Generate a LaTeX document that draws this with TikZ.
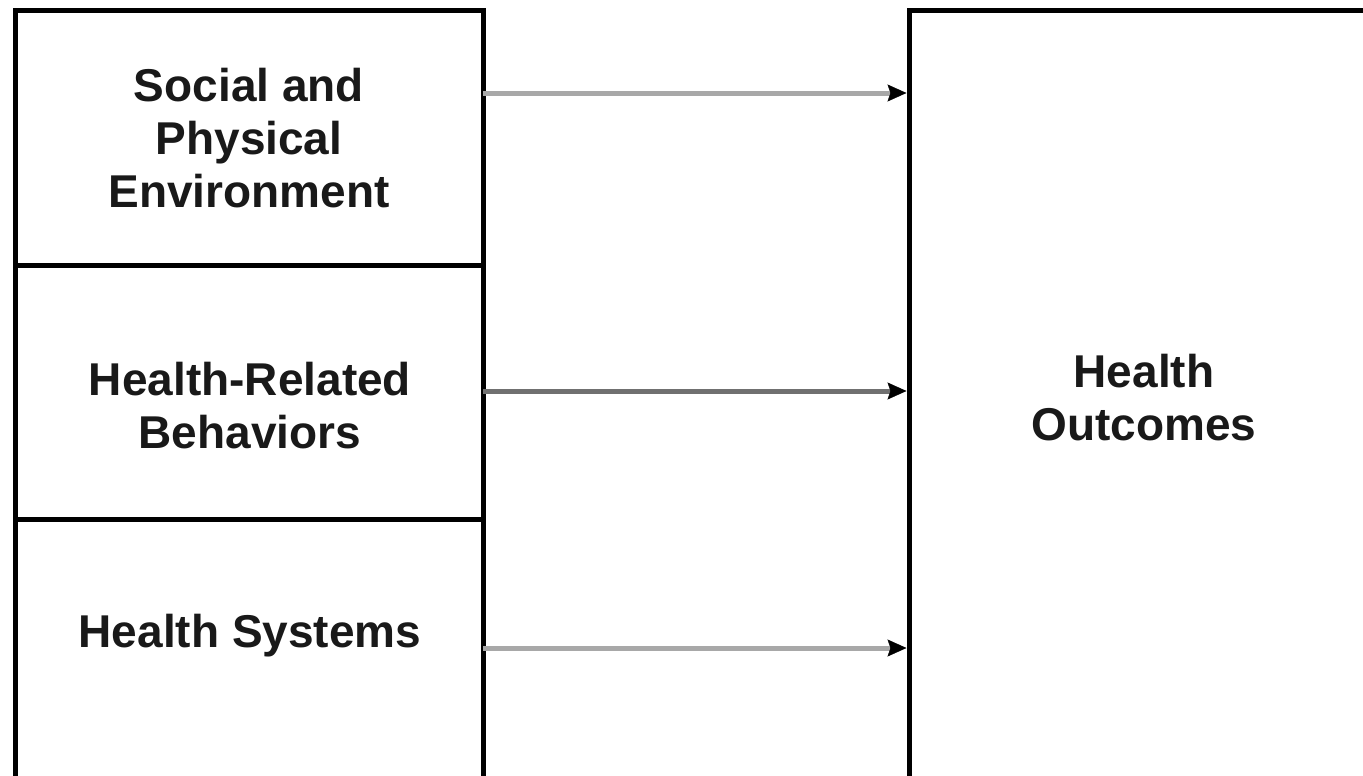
\documentclass[tikz,border=0pt]{standalone}
\usepackage{fontspec}
\setmainfont{Liberation Sans}
\usetikzlibrary{arrows.meta}
\definecolor{linegray}{HTML}{A8A8A8}
\definecolor{darkline}{HTML}{707070}
\tikzset{
  box/.style={draw=black, line width=5pt, anchor=north west, inner sep=0pt, outer sep=0pt},
  lbl/.style={align=center, text=black!90, font=\fontsize{46}{53}\selectfont\bfseries},
  conn/.style={draw=linegray, line width=5pt, -{Stealth[length=19pt,width=17pt,inset=3pt,color=black,fill=black,line width=0.5pt]}, shorten >=3pt}
}
\begin{document}
\begin{tikzpicture}[x=1pt,y=-1pt]
\useasboundingbox (0,0) rectangle (1363,776);
\clip (0,0) rectangle (1363,776);
\node[box, minimum width=467.5pt, minimum height=254.5pt] (b1) at (15.5,10.5) {};
\node[box, minimum width=467.5pt, minimum height=254pt] (b2) at (15.5,265) {};
\node[box, minimum width=467.5pt, minimum height=290pt] (b3) at (15.5,519) {};
\node[box, minimum width=500pt, minimum height=800pt] (out) at (909.5,10.5) {};
\node[lbl] (t1) at (249,138) {Social and\\Physical\\Environment};
\node[lbl] (t2) at (250,406) {Health-Related\\Behaviors};
\node[lbl] (t3) at (250,636) {Health Systems};
\node[lbl] (t4) at (1144,398) {Health\\Outcomes};
\coordinate (y1) at (0,93);
\coordinate (y2) at (0,391);
\coordinate (y3) at (0,648);
\draw[conn] (b1.east |- y1) -- (out.west |- y1);
\draw[conn, draw=darkline] (b2.east |- y2) -- (out.west |- y2);
\draw[conn] (b3.east |- y3) -- (out.west |- y3);
\end{tikzpicture}
\end{document}
